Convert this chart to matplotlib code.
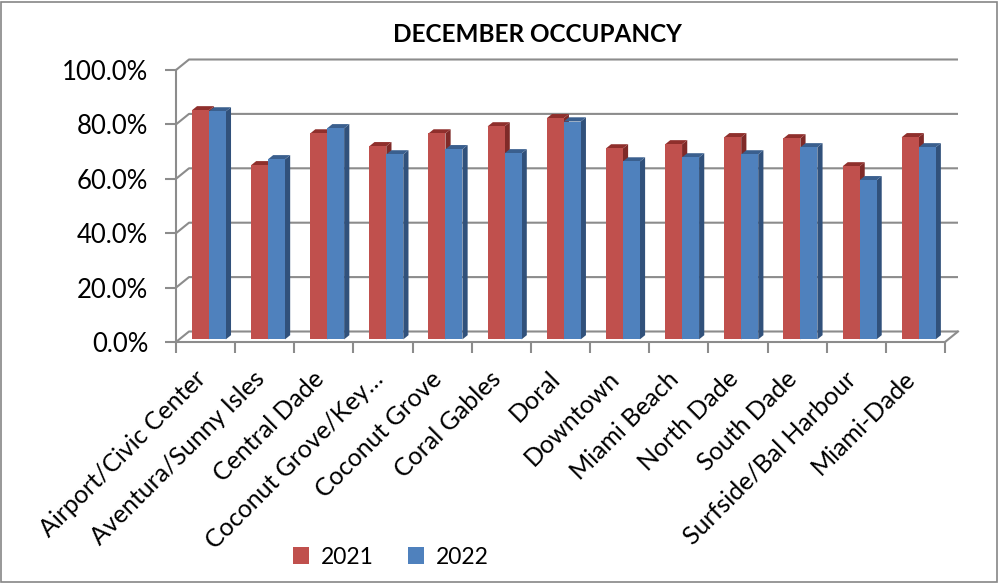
import matplotlib.pyplot as plt
from matplotlib.patches import Polygon, Patch, Rectangle
import numpy as np

plt.rcParams['font.family'] = ['Lato', 'DejaVu Sans']

# Data (percent)
categories = ['Airport/Civic Center', 'Aventura/Sunny Isles', 'Central Dade',
              'Coconut Grove/Key\u2026', 'Coconut Grove', 'Coral Gables', 'Doral',
              'Downtown', 'Miami Beach', 'North Dade', 'South Dade',
              'Surfside/Bal Harbour', 'Miami-Dade']
occ_2021 = [84.2, 64.0, 75.7, 71.0, 75.7, 78.3, 81.3, 70.2, 71.7, 74.3, 73.9, 63.6, 74.3]
occ_2022 = [83.8, 66.2, 77.6, 68.0, 69.9, 68.4, 80.1, 65.4, 66.9, 68.0, 70.6, 58.5, 70.6]
years = ['2021', '2022']
y_ticks = [0, 20, 40, 60, 80, 100]

W, H = 999, 583
fig = plt.figure(figsize=(W / 100, H / 100), dpi=100)

# front plane of the 3D box, in pixels
x0px, x1px = 176, 945
y0px, y100px = 342, 70
ax = fig.add_axes([x0px / W, 1 - y0px / H, (x1px - x0px) / W, (y0px - y100px) / H])
n = len(categories)
ax.set_xlim(0, n)
ax.set_ylim(0, 100)

ux = (x1px - x0px) / n          # px per category
uy = (y0px - y100px) / 100      # px per percent
dx = 13 / ux                    # depth offset, data units
dy = 10.5 / uy

grid_col = '#8c8c8c'
# walls: gridlines on left wall + back wall
for v in y_ticks:
    ax.plot([0, dx, n + dx], [v, v + dy, v + dy], color=grid_col, lw=1.5,
            clip_on=False, zorder=1, solid_capstyle='butt')
# floor right edge
ax.plot([n, n + dx], [0, dy], color=grid_col, lw=1.5, clip_on=False, zorder=1)

# bars
bw = 17 / ux
sx = 0.25 * dx
sy = 0.25 * dy
bdx = 0.4 * dx
bdy = 0.4 * dy
colors = {
    '2021': ('#c0504d', '#8f2f2c', '#7f2a28'),
    '2022': ('#4f81bd', '#3a5f8e', '#31517b'),
}
for k, (yr, vals) in enumerate(zip(years, [occ_2021, occ_2022])):
    front, top_c, side_c = colors[yr]
    for i, v in enumerate(vals):
        xl = i + 0.5 - bw + k * bw + sx
        xr = xl + bw
        yb = sy
        yt = v + sy
        z = 3 + k
        ax.add_patch(Polygon([(xr, yb), (xr + bdx, yb + bdy), (xr + bdx, yt + bdy), (xr, yt)],
                             closed=True, fc=side_c, ec='none', clip_on=False, zorder=z))
        ax.add_patch(Polygon([(xl, yt), (xr, yt), (xr + bdx, yt + bdy), (xl + bdx, yt + bdy)],
                             closed=True, fc=top_c, ec='none', clip_on=False, zorder=z))
        ax.add_patch(Rectangle((xl, yb), bw, v, fc=front, ec='none', clip_on=False, zorder=z))

# axes
for s in ['top', 'right']:
    ax.spines[s].set_visible(False)
for s in ['left', 'bottom']:
    ax.spines[s].set_color(grid_col)
    ax.spines[s].set_linewidth(1.5)
    ax.spines[s].set_zorder(2)
ax.set_facecolor('none')

ax.set_yticks(y_ticks)
ax.set_yticklabels([f'{v:.1f}%' for v in y_ticks], fontsize=18.5)
ax.tick_params(axis='y', length=8, width=1.5, color=grid_col, pad=12)

ax.set_xticks(np.arange(n + 1))
ax.set_xticklabels([])
ax.tick_params(axis='x', which='major', length=8, width=1.5, color=grid_col, direction='out')
ax.set_xticks(np.arange(n) + 0.3, minor=True)
ax.set_xticklabels(categories, minor=True, fontsize=18, rotation=45,
                   ha='right', va='top', rotation_mode='anchor')
ax.tick_params(axis='x', which='minor', length=0, pad=18)

fig.text(537 / W, 1 - 35 / H, 'DECEMBER OCCUPANCY', ha='center', va='center',
         fontsize=17.5, fontweight='bold')

handles = [Patch(fc=colors[y][0], ec='none') for y in years]
fig.legend(handles, years, loc='center', bbox_to_anchor=(391 / W, 1 - 557 / H),
           ncol=2, frameon=False, fontsize=16.5, handlelength=0.7, handleheight=0.7,
           handletextpad=0.5, columnspacing=1.5)

# outer chart border
fig.add_artist(Rectangle((1 / W, 1 / H), 1 - 3 / W, 1 - 3 / H, transform=fig.transFigure,
                         fill=False, ec='#868686', lw=1.2))

fig.savefig('out.png', dpi=100)
